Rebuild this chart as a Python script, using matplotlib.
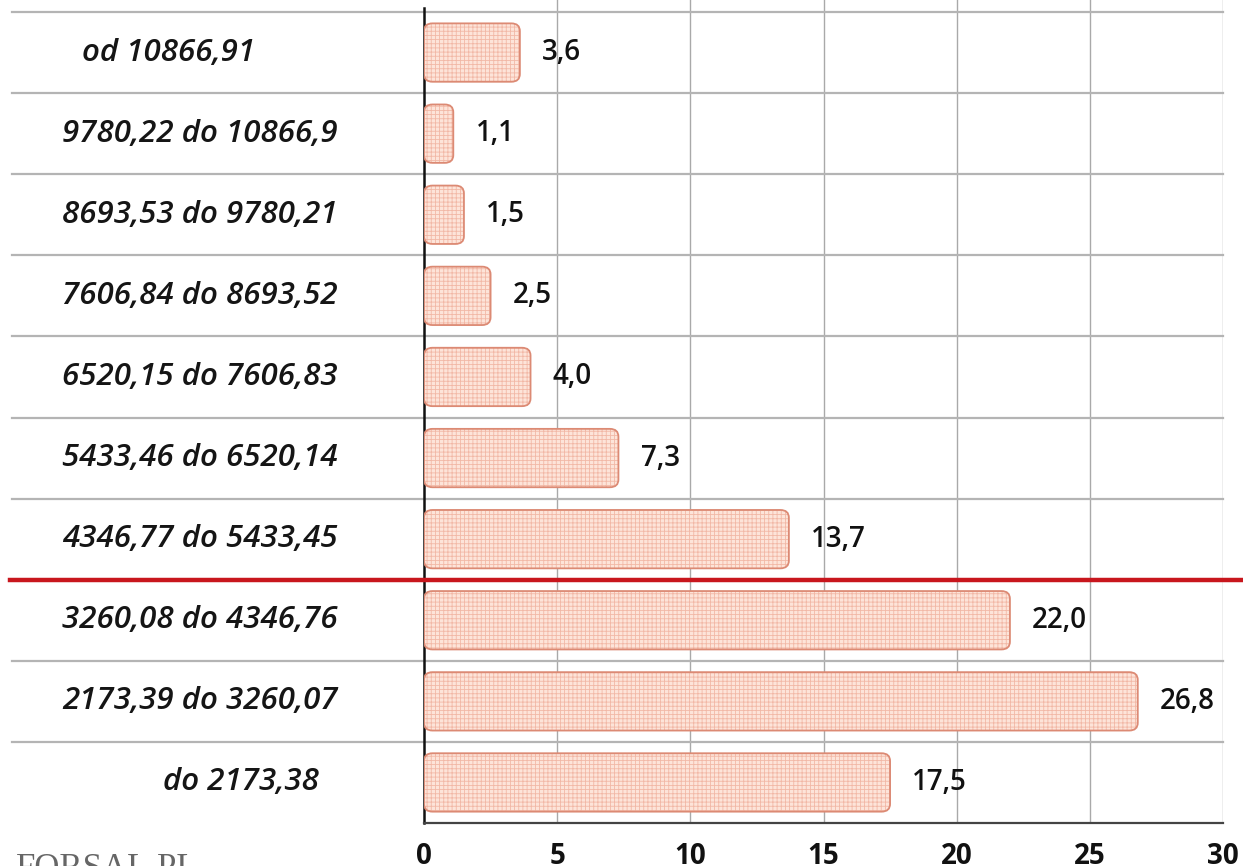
import matplotlib
matplotlib.use('Agg')
import matplotlib.pyplot as plt
import matplotlib.transforms as mtransforms
from matplotlib.patches import FancyBboxPatch

categories = ['do 2173,38', '2173,39 do 3260,07', '3260,08 do 4346,76',
              '4346,77 do 5433,45', '5433,46 do 6520,14', '6520,15 do 7606,83',
              '7606,84 do 8693,52', '8693,53 do 9780,21', '9780,22 do 10866,9',
              'od 10866,91']
values = [17.5, 26.8, 22.0, 13.7, 7.3, 4.0, 2.5, 1.5, 1.1, 3.6]
xticks = [0, 5, 10, 15, 20, 25, 30]

W, H = 1243, 866
fig = plt.figure(figsize=(W / 100, H / 100), dpi=100)
ax = fig.add_axes([424 / W, 1 - 823 / H, 799 / W, 823 / H])
ax.set_xlim(0, 30)
ax.set_ylim(-0.5, 9.5 + 12 / 81)

fill_c = '#fde4d9'
hatch_c = '#f2b8a6'
edge_c = '#dc8a74'
plt.rcParams['hatch.linewidth'] = 0.6

bh = 0.72
for i, v in enumerate(values):
    # hatched fill (hatch colour follows edgecolor, so draw the outline separately)
    p = FancyBboxPatch((0, i - bh / 2), v, bh,
                       boxstyle='round,pad=0,rounding_size=0.32',
                       mutation_aspect=0.3, facecolor=fill_c,
                       edgecolor=hatch_c, hatch='++++', linewidth=0, zorder=3)
    ax.add_patch(p)
    o = FancyBboxPatch((0, i - bh / 2), v, bh,
                       boxstyle='round,pad=0,rounding_size=0.32',
                       mutation_aspect=0.3, facecolor='none',
                       edgecolor=edge_c, linewidth=1.3, zorder=4)
    ax.add_patch(o)
    ax.annotate(f'{v:.1f}'.replace('.', ','), (v, i), xytext=(16, 0),
                textcoords='offset points', ha='left', va='center',
                fontsize=20, family='Open Sans', fontweight='semibold',
                color='#111111', zorder=5)

# vertical grid
for x in xticks[1:]:
    ax.axvline(x, color='#a9a9a9', lw=1.0, zorder=1)

# horizontal row separators extending into the label area
blend = mtransforms.blended_transform_factory(ax.transAxes, ax.transData)
x0 = (12 - 424) / 799
for k in range(10):
    yb = k + 0.5
    if k == 2:
        continue
    ax.plot([x0, 1], [yb, yb], transform=blend, color='#b4b4b4', lw=1.6,
            clip_on=False, zorder=1)

# red threshold line
ax.plot([(10 - 424) / 799, (1243 - 424) / 799], [2.5, 2.5], transform=blend,
        color='#c8161d', lw=3.2, clip_on=False, zorder=6)

# category labels
label_x = {0: 163, 9: 82}
lab_tr = mtransforms.blended_transform_factory(fig.transFigure, ax.transData)
for i, c in enumerate(categories):
    px = label_x.get(i, 62)
    fig.text(px / W, i, c, transform=lab_tr,
             ha='left', va='center', fontsize=22.5, family='Open Sans',
             style='italic', fontweight='semibold', color='#151515')

for s in ['top', 'right']:
    ax.spines[s].set_visible(False)
ax.spines['left'].set_color('#111111')
ax.spines['left'].set_linewidth(1.8)
ax.spines['bottom'].set_color('#444444')
ax.spines['bottom'].set_linewidth(1.6)
ax.spines['left'].set_bounds(-0.5, 9.5 + 4 / 81)

ax.set_yticks([])
ax.set_xticks(xticks)
ax.set_xticklabels([str(x) for x in xticks], fontsize=20, family='Open Sans',
                   fontweight='bold', color='#111111')
ax.tick_params(axis='x', length=0, pad=14)

fig.text(16 / W, 1 - 878 / H, 'FORSAL.PL', fontsize=25, family='Liberation Serif',
         color='#666666', ha='left', va='baseline')

fig.savefig('out.png', dpi=100)
